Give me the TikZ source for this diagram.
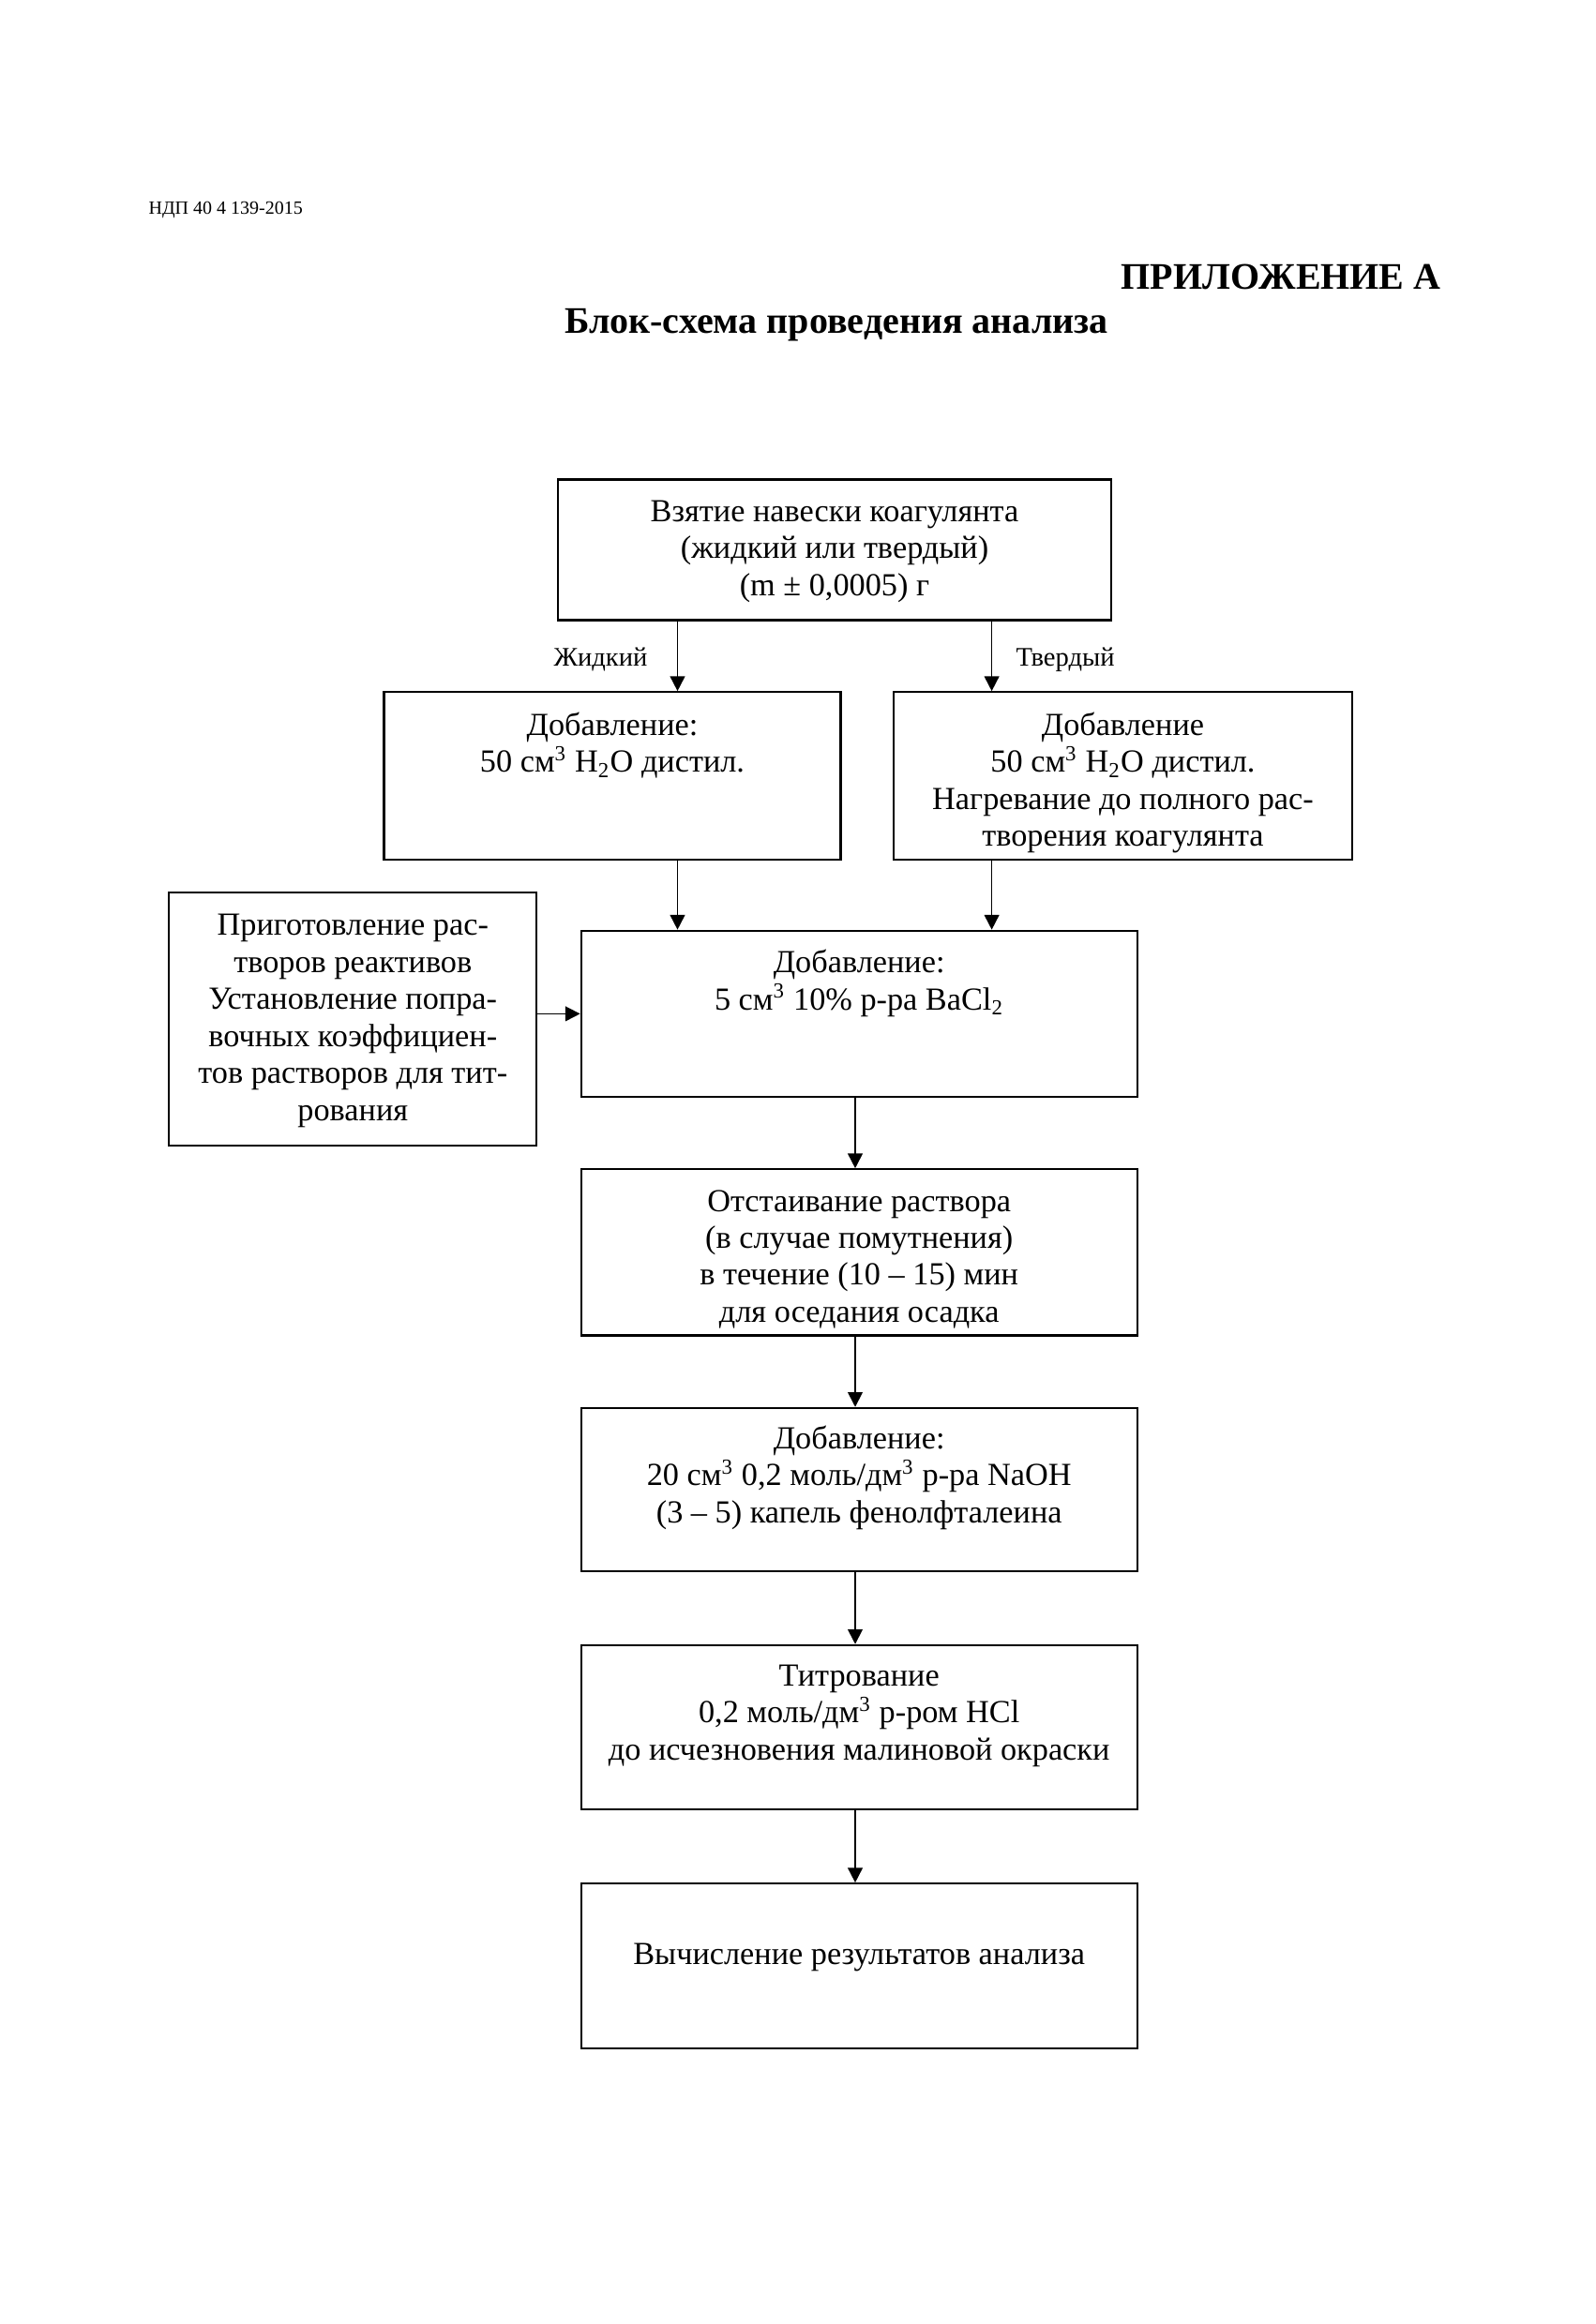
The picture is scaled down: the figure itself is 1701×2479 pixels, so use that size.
\documentclass[tikz,border=0pt]{standalone}
\usepackage{fontspec}
\setmainfont{Liberation Serif}
\usetikzlibrary{arrows.meta}
\newcommand\bxt[4]{\parbox[c][#2][t]{#1}{\vspace*{#3}\centering\strut #4\par}}
\tikzset{
  blk/.style={draw, line width=0.8pt, inner sep=0pt, font=\fontsize{12}{13.8}\selectfont},
  arr/.style={-{Triangle[length=5.5pt,width=5.5pt]}, line width=0.6pt},
  lbl/.style={font=\fontsize{10}{12}\selectfont, inner sep=0pt}
}
\begin{document}
\begin{tikzpicture}[x=0.35pt,y=-0.35pt]
\useasboundingbox (0,0) rectangle (1701,2479);
% header and titles
\node[inner sep=0pt, anchor=base west, font=\fontsize{7}{8}\selectfont] (hdr) at (158,229) {НДП 40 4 139-2015};
\node[inner sep=0pt, anchor=base east, font=\fontsize{14}{16}\selectfont\bfseries] (app) at (1537,309) {ПРИЛОЖЕНИЕ А};
\node[inner sep=0pt, anchor=base, font=\fontsize{14}{16}\selectfont\bfseries] (ttl) at (892,356) {Блок-схема проведения анализа};
% boxes
\node[blk] (top) at (890,586.5) {\bxt{206.5pt}{52.5pt}{6pt}{Взятие навески коагулянта\\(жидкий или твердый)\\(m ± 0,0005) г}};
\node[blk] (liq) at (653,827.6) {\bxt{170.4pt}{62.5pt}{6.5pt}{Добавление:\\50 см\textsuperscript{3} H\textsubscript{2}O дистил.}};
\node[blk] (sol) at (1197.5,827.6) {\bxt{171pt}{62.5pt}{6.5pt}{Добавление\\50 см\textsuperscript{3} H\textsubscript{2}O дистил.\\Нагревание до полного рас-\\творения коагулянта}};
\node[blk] (prep) at (376.3,1086.9) {\bxt{137.2pt}{94.6pt}{6.5pt}{Приготовление рас-\\творов реактивов\\Установление попра-\\вочных коэффициен-\\тов растворов для тит-\\рования}};
\node[blk] (bacl) at (916.2,1081.4) {\bxt{207.5pt}{62pt}{6pt}{Добавление:\\5 см\textsuperscript{3} 10\% р-ра BaCl\textsubscript{2}}};
\node[blk] (sett) at (916.2,1335.9) {\bxt{207.5pt}{62pt}{6pt}{Отстаивание раствора\\(в случае помутнения)\\в течение (10 – 15) мин\\для оседания осадка}};
\node[blk] (naoh) at (916.2,1588.9) {\bxt{207.5pt}{60.9pt}{5.5pt}{Добавление:\\20 см\textsuperscript{3} 0,2 моль/дм\textsuperscript{3} р-ра NaOH\\(3 – 5) капель фенолфталеина}};
\node[blk] (titr) at (916.2,1842.6) {\bxt{207.5pt}{61.4pt}{5.5pt}{Титрование\\0,2 моль/дм\textsuperscript{3} р-ром HCl\\до исчезновения малиновой окраски}};
\node[blk] (calc) at (916.2,2097) {\bxt{207.5pt}{61.4pt}{20.5pt}{Вычисление результатов анализа}};
% connector columns
\coordinate (aL) at (722.5,0);
\coordinate (aR) at (1057.6,0);
\coordinate (aC) at (912,0);
% labels
\node[lbl, anchor=base east] (lliq) at (691,710) {Жидкий};
\node[lbl, anchor=base west] (lsol) at (1083,710) {Твердый};
% connectors
\draw[arr] (aL |- top.south) -- (aL |- liq.north);
\draw[arr] (aR |- top.south) -- (aR |- sol.north);
\draw[arr] (aL |- liq.south) -- (aL |- bacl.north);
\draw[arr] (aR |- sol.south) -- (aR |- bacl.north);
\draw[arr] (prep.east |- bacl.west) -- (bacl.west);
\draw[arr] (aC |- bacl.south) -- (aC |- sett.north);
\draw[arr] (aC |- sett.south) -- (aC |- naoh.north);
\draw[arr] (aC |- naoh.south) -- (aC |- titr.north);
\draw[arr] (aC |- titr.south) -- (aC |- calc.north);
\end{tikzpicture}
\end{document}
